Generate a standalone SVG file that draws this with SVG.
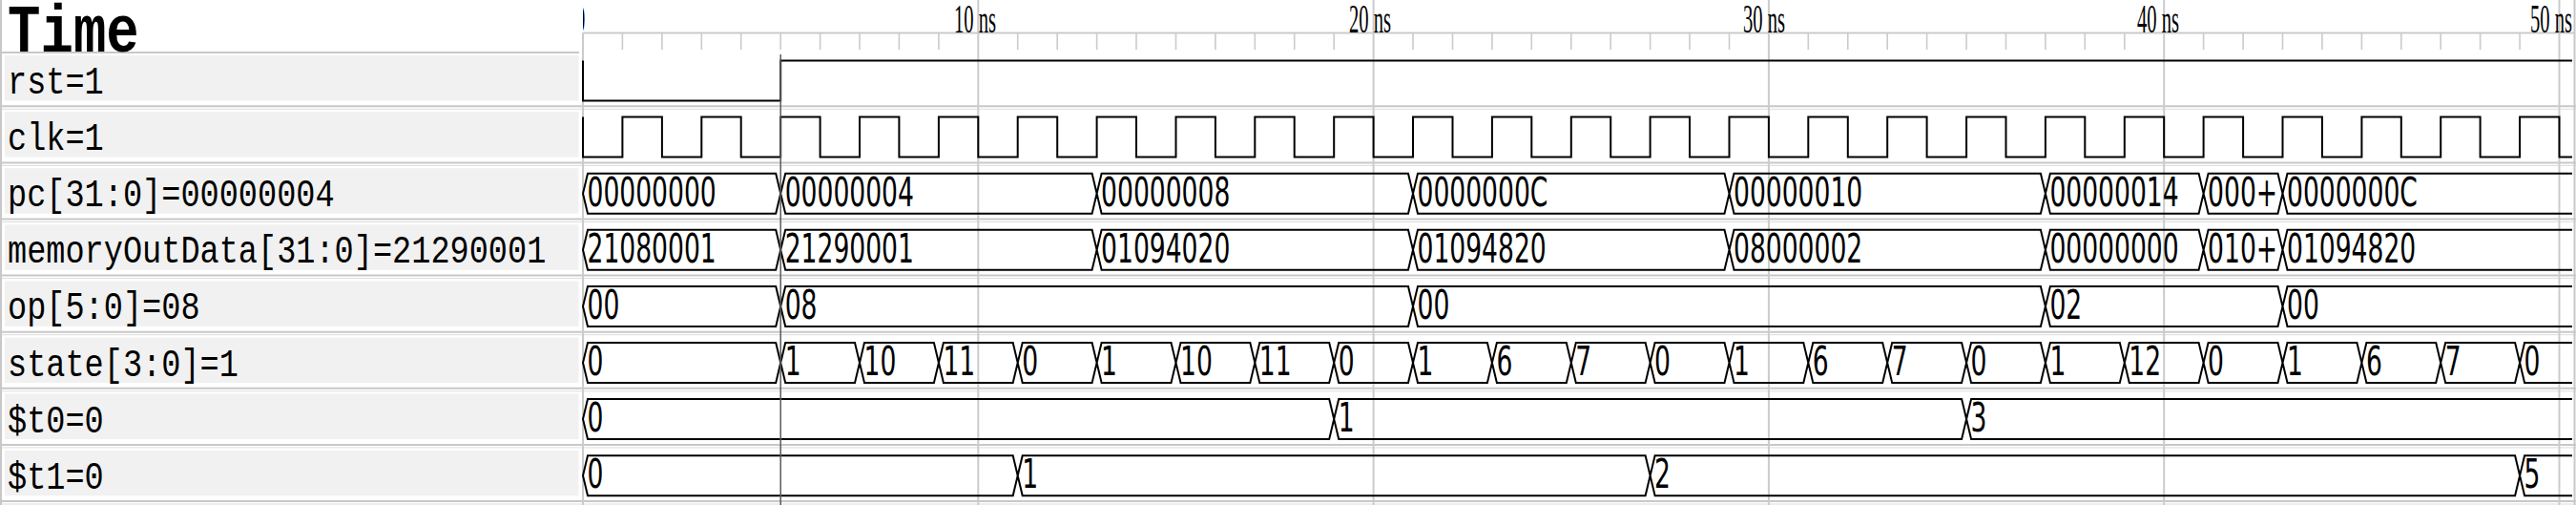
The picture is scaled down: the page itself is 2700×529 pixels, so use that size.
<svg xmlns="http://www.w3.org/2000/svg" width="2700" height="529" viewBox="0 0 2700 529">
<style>
.lblbg{fill:#f1f1f1}
.sep{stroke:#c8c8c8;stroke-width:2;fill:none}
.sep2{stroke:#dcdcdc;stroke-width:1;fill:none}
.grid{stroke:#cbcbcb;stroke-width:2;fill:none}
.tick{stroke:#cbcbcb;stroke-width:1.6;fill:none}
.w{stroke:#000;stroke-width:2;fill:none;stroke-linejoin:miter}
.cur{stroke:#5a5a5a;stroke-width:1.5}
.lbl{font-family:"Liberation Mono",monospace;font-size:40px;fill:#000}
.time{font-family:"Liberation Mono",monospace;font-size:70px;font-weight:bold;fill:#000}
.rul{font-family:"Liberation Serif",serif;font-size:42px;fill:#000}
.v{font-family:"DejaVu Sans",sans-serif;font-size:42px;fill:#000}
</style>
<defs>
<clipPath id="waveclip"><rect x="611" y="0" width="2089" height="529"/></clipPath>
</defs>
<rect x="0" y="0" width="2700" height="529" fill="#fff"/>

<g id="panel">
<rect class="lblbg" x="5" y="58" width="601.5" height="47.5"/>
<rect class="lblbg" x="5" y="117.1" width="601.5" height="47.5"/>
<rect class="lblbg" x="5" y="176.2" width="601.5" height="47.5"/>
<rect class="lblbg" x="5" y="235.3" width="601.5" height="47.5"/>
<rect class="lblbg" x="5" y="294.4" width="601.5" height="47.5"/>
<rect class="lblbg" x="5" y="353.5" width="601.5" height="47.5"/>
<rect class="lblbg" x="5" y="412.6" width="601.5" height="47.5"/>
<rect class="lblbg" x="5" y="471.7" width="601.5" height="47.5"/>
<path class="sep" d="M0,55H607"/>
<path class="sep" d="M0,111.3H2700M0,170.4H2700M0,229.5H2700M0,288.6H2700M0,347.7H2700M0,406.8H2700M0,465.9H2700M0,525H2700"/>
<path class="sep2" d="M0,114.3H2700M0,173.4H2700M0,232.5H2700M0,291.6H2700M0,350.7H2700M0,409.8H2700M0,468.9H2700M0,528H2700"/>
<path class="sep" d="M1,0V529M2698.5,0V529"/>
<text class="time" transform="matrix(.82 0 0 1 8 54)">Time</text>
</g>

<g id="ruler">
<path class="grid" d="M611,34.5H2698M611,34.5V529M1025.3,0V529M1439.6,0V529M1853.9,0V529M2268.2,0V529M2682.5,0V529"/>
<path class="tick" d="M652.4,34.5V52M693.9,34.5V52M735.3,34.5V52M776.7,34.5V52M818.2,34.5V52M859.6,34.5V52M901,34.5V52M942.4,34.5V52M983.9,34.5V52M1066.7,34.5V52M1108.2,34.5V52M1149.6,34.5V52M1191,34.5V52M1232.5,34.5V52M1273.9,34.5V52M1315.3,34.5V52M1356.7,34.5V52M1398.2,34.5V52M1481,34.5V52M1522.5,34.5V52M1563.9,34.5V52M1605.3,34.5V52M1646.8,34.5V52M1688.2,34.5V52M1729.6,34.5V52M1771,34.5V52M1812.5,34.5V52M1895.3,34.5V52M1936.8,34.5V52M1978.2,34.5V52M2019.6,34.5V52M2061.1,34.5V52M2102.5,34.5V52M2143.9,34.5V52M2185.3,34.5V52M2226.8,34.5V52M2309.6,34.5V52M2351.1,34.5V52M2392.5,34.5V52M2433.9,34.5V52M2475.4,34.5V52M2516.8,34.5V52M2558.2,34.5V52M2599.6,34.5V52M2641.1,34.5V52"/>
<g clip-path="url(#waveclip)"><text class="rul" transform="matrix(.49 0 0 1 603 34)">0</text></g>
<text class="rul" transform="matrix(.49 0 0 1 1000 34)">10 ns</text>
<text class="rul" transform="matrix(.49 0 0 1 1414 34)">20 ns</text>
<text class="rul" transform="matrix(.49 0 0 1 1827 34)">30 ns</text>
<text class="rul" transform="matrix(.49 0 0 1 2240 34)">40 ns</text>
<text class="rul" transform="matrix(.49 0 0 1 2652 34)">50 ns</text>
</g>

<g id="sig-rst">
<text class="lbl" transform="matrix(.84 0 0 1 8 98)">rst=1</text>
<path class="w" d="M611,63.5V105.5H818.2V63.5H2696"/>
</g>

<g id="sig-clk">
<text class="lbl" transform="matrix(.84 0 0 1 8 157.1)">clk=1</text>
<path class="w" d="M611,122.6V164.6H652.4V122.6H693.9V164.6H735.3V122.6H776.7V164.6H818.2V122.6H859.6V164.6H901V122.6H942.4V164.6H983.9V122.6H1025.3V164.6H1066.7V122.6H1108.2V164.6H1149.6V122.6H1191V164.6H1232.5V122.6H1273.9V164.6H1315.3V122.6H1356.7V164.6H1398.2V122.6H1439.6V164.6H1481V122.6H1522.5V164.6H1563.9V122.6H1605.3V164.6H1646.8V122.6H1688.2V164.6H1729.6V122.6H1771V164.6H1812.5V122.6H1853.9V164.6H1895.3V122.6H1936.8V164.6H1978.2V122.6H2019.6V164.6H2061.1V122.6H2102.5V164.6H2143.9V122.6H2185.3V164.6H2226.8V122.6H2268.2V164.6H2309.6V122.6H2351.1V164.6H2392.5V122.6H2433.9V164.6H2475.4V122.6H2516.8V164.6H2558.2V122.6H2599.6V164.6H2641.1V122.6H2682.5V164.6H2696"/>
</g>

<g id="sig-pc">
<text class="lbl" transform="matrix(.84 0 0 1 8 216.2)">pc[31:0]=00000004</text>
<path class="w" d="M611,202.7l5,-21H813.2l5,21l-5,21H616Z M818.2,202.7l5,-21H1144.6l5,21l-5,21H823.2Z M1149.6,202.7l5,-21H1476l5,21l-5,21H1154.6Z M1481,202.7l5,-21H1807.5l5,21l-5,21H1486Z M1812.5,202.7l5,-21H2138.9l5,21l-5,21H1817.5Z M2143.9,202.7l5,-21H2304.6l5,21l-5,21H2148.9Z M2309.6,202.7l5,-21H2387.5l5,21l-5,21H2314.6Z M2696,181.7H2397.5l-5,21l5,21H2696"/>
<text class="v" transform="matrix(.633 0 0 1 615.5 215.7)">00000000</text>
<text class="v" transform="matrix(.633 0 0 1 822.7 215.7)">00000004</text>
<text class="v" transform="matrix(.633 0 0 1 1154.1 215.7)">00000008</text>
<text class="v" transform="matrix(.633 0 0 1 1485.5 215.7)">0000000C</text>
<text class="v" transform="matrix(.633 0 0 1 1817 215.7)">00000010</text>
<text class="v" transform="matrix(.633 0 0 1 2148.4 215.7)">00000014</text>
<text class="v" transform="matrix(.633 0 0 1 2314.1 215.7)">000+</text>
<text class="v" transform="matrix(.633 0 0 1 2397 215.7)">0000000C</text>
</g>

<g id="sig-memoryOutData">
<text class="lbl" transform="matrix(.84 0 0 1 8 275.3)">memoryOutData[31:0]=21290001</text>
<path class="w" d="M611,261.8l5,-21H813.2l5,21l-5,21H616Z M818.2,261.8l5,-21H1144.6l5,21l-5,21H823.2Z M1149.6,261.8l5,-21H1476l5,21l-5,21H1154.6Z M1481,261.8l5,-21H1807.5l5,21l-5,21H1486Z M1812.5,261.8l5,-21H2138.9l5,21l-5,21H1817.5Z M2143.9,261.8l5,-21H2304.6l5,21l-5,21H2148.9Z M2309.6,261.8l5,-21H2387.5l5,21l-5,21H2314.6Z M2696,240.8H2397.5l-5,21l5,21H2696"/>
<text class="v" transform="matrix(.633 0 0 1 615.5 274.8)">21080001</text>
<text class="v" transform="matrix(.633 0 0 1 822.7 274.8)">21290001</text>
<text class="v" transform="matrix(.633 0 0 1 1154.1 274.8)">01094020</text>
<text class="v" transform="matrix(.633 0 0 1 1485.5 274.8)">01094820</text>
<text class="v" transform="matrix(.633 0 0 1 1817 274.8)">08000002</text>
<text class="v" transform="matrix(.633 0 0 1 2148.4 274.8)">00000000</text>
<text class="v" transform="matrix(.633 0 0 1 2314.1 274.8)">010+</text>
<text class="v" transform="matrix(.633 0 0 1 2397 274.8)">01094820</text>
</g>

<g id="sig-op">
<text class="lbl" transform="matrix(.84 0 0 1 8 334.4)">op[5:0]=08</text>
<path class="w" d="M611,320.9l5,-21H813.2l5,21l-5,21H616Z M818.2,320.9l5,-21H1476l5,21l-5,21H823.2Z M1481,320.9l5,-21H2138.9l5,21l-5,21H1486Z M2143.9,320.9l5,-21H2387.5l5,21l-5,21H2148.9Z M2696,299.9H2397.5l-5,21l5,21H2696"/>
<text class="v" transform="matrix(.633 0 0 1 615.5 333.9)">00</text>
<text class="v" transform="matrix(.633 0 0 1 822.7 333.9)">08</text>
<text class="v" transform="matrix(.633 0 0 1 1485.5 333.9)">00</text>
<text class="v" transform="matrix(.633 0 0 1 2148.4 333.9)">02</text>
<text class="v" transform="matrix(.633 0 0 1 2397 333.9)">00</text>
</g>

<g id="sig-state">
<text class="lbl" transform="matrix(.84 0 0 1 8 393.5)">state[3:0]=1</text>
<path class="w" d="M611,380l5,-21H813.2l5,21l-5,21H616Z M818.2,380l5,-21H896l5,21l-5,21H823.2Z M901,380l5,-21H978.9l5,21l-5,21H906Z M983.9,380l5,-21H1061.7l5,21l-5,21H988.9Z M1066.7,380l5,-21H1144.6l5,21l-5,21H1071.7Z M1149.6,380l5,-21H1227.5l5,21l-5,21H1154.6Z M1232.5,380l5,-21H1310.3l5,21l-5,21H1237.5Z M1315.3,380l5,-21H1393.2l5,21l-5,21H1320.3Z M1398.2,380l5,-21H1476l5,21l-5,21H1403.2Z M1481,380l5,-21H1558.9l5,21l-5,21H1486Z M1563.9,380l5,-21H1641.8l5,21l-5,21H1568.9Z M1646.8,380l5,-21H1724.6l5,21l-5,21H1651.8Z M1729.6,380l5,-21H1807.5l5,21l-5,21H1734.6Z M1812.5,380l5,-21H1890.3l5,21l-5,21H1817.5Z M1895.3,380l5,-21H1973.2l5,21l-5,21H1900.3Z M1978.2,380l5,-21H2056.1l5,21l-5,21H1983.2Z M2061.1,380l5,-21H2138.9l5,21l-5,21H2066.1Z M2143.9,380l5,-21H2221.8l5,21l-5,21H2148.9Z M2226.8,380l5,-21H2304.6l5,21l-5,21H2231.8Z M2309.6,380l5,-21H2387.5l5,21l-5,21H2314.6Z M2392.5,380l5,-21H2470.4l5,21l-5,21H2397.5Z M2475.4,380l5,-21H2553.2l5,21l-5,21H2480.4Z M2558.2,380l5,-21H2636.1l5,21l-5,21H2563.2Z M2696,359H2646.1l-5,21l5,21H2696"/>
<text class="v" transform="matrix(.633 0 0 1 615.5 393)">0</text>
<text class="v" transform="matrix(.633 0 0 1 822.7 393)">1</text>
<text class="v" transform="matrix(.633 0 0 1 905.5 393)">10</text>
<text class="v" transform="matrix(.633 0 0 1 988.4 393)">11</text>
<text class="v" transform="matrix(.633 0 0 1 1071.2 393)">0</text>
<text class="v" transform="matrix(.633 0 0 1 1154.1 393)">1</text>
<text class="v" transform="matrix(.633 0 0 1 1237 393)">10</text>
<text class="v" transform="matrix(.633 0 0 1 1319.8 393)">11</text>
<text class="v" transform="matrix(.633 0 0 1 1402.7 393)">0</text>
<text class="v" transform="matrix(.633 0 0 1 1485.5 393)">1</text>
<text class="v" transform="matrix(.633 0 0 1 1568.4 393)">6</text>
<text class="v" transform="matrix(.633 0 0 1 1651.3 393)">7</text>
<text class="v" transform="matrix(.633 0 0 1 1734.1 393)">0</text>
<text class="v" transform="matrix(.633 0 0 1 1817 393)">1</text>
<text class="v" transform="matrix(.633 0 0 1 1899.8 393)">6</text>
<text class="v" transform="matrix(.633 0 0 1 1982.7 393)">7</text>
<text class="v" transform="matrix(.633 0 0 1 2065.6 393)">0</text>
<text class="v" transform="matrix(.633 0 0 1 2148.4 393)">1</text>
<text class="v" transform="matrix(.633 0 0 1 2231.3 393)">12</text>
<text class="v" transform="matrix(.633 0 0 1 2314.1 393)">0</text>
<text class="v" transform="matrix(.633 0 0 1 2397 393)">1</text>
<text class="v" transform="matrix(.633 0 0 1 2479.9 393)">6</text>
<text class="v" transform="matrix(.633 0 0 1 2562.7 393)">7</text>
<text class="v" transform="matrix(.633 0 0 1 2645.6 393)">0</text>
</g>

<g id="sig-t0">
<text class="lbl" transform="matrix(.84 0 0 1 8 452.6)">$t0=0</text>
<path class="w" d="M611,439.1l5,-21H1393.2l5,21l-5,21H616Z M1398.2,439.1l5,-21H2056.1l5,21l-5,21H1403.2Z M2696,418.1H2066.1l-5,21l5,21H2696"/>
<text class="v" transform="matrix(.633 0 0 1 615.5 452.1)">0</text>
<text class="v" transform="matrix(.633 0 0 1 1402.7 452.1)">1</text>
<text class="v" transform="matrix(.633 0 0 1 2065.6 452.1)">3</text>
</g>

<g id="sig-t1">
<text class="lbl" transform="matrix(.84 0 0 1 8 511.7)">$t1=0</text>
<path class="w" d="M611,498.2l5,-21H1061.7l5,21l-5,21H616Z M1066.7,498.2l5,-21H1724.6l5,21l-5,21H1071.7Z M1729.6,498.2l5,-21H2636.1l5,21l-5,21H1734.6Z M2696,477.2H2646.1l-5,21l5,21H2696"/>
<text class="v" transform="matrix(.633 0 0 1 615.5 511.2)">0</text>
<text class="v" transform="matrix(.633 0 0 1 1071.2 511.2)">1</text>
<text class="v" transform="matrix(.633 0 0 1 1734.1 511.2)">2</text>
<text class="v" transform="matrix(.633 0 0 1 2645.6 511.2)">5</text>
</g>

<g id="cursor">
<path class="cur" d="M818.2,57V529"/>
</g>
</svg>
